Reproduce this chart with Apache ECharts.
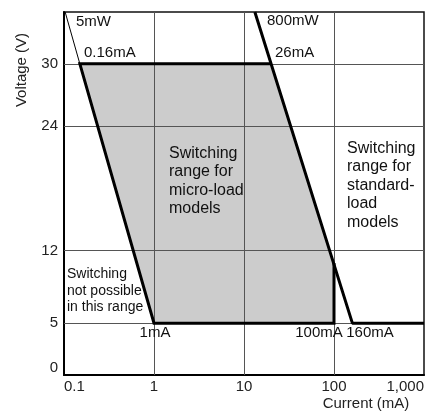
<!DOCTYPE html>
<html>
<head>
<meta charset="utf-8">
<script src="https://cdn.jsdelivr.net/npm/echarts@6/dist/echarts.min.js"></script>
<style>
html,body{margin:0;padding:0;background:#fff;}
#chart{width:427px;height:415px;}
</style>
</head>
<body>
<div id="chart"></div>
<script>
// ---- data ----
const xTicks = [0.1, 1, 10, 100, 1000];
const xTickLabels = ['0.1', '1', '10', '100', '1,000'];
const yTicks = [0, 5, 12, 24, 30];
const xGridValues = [1, 10, 100];
const yGridValues = [5, 12, 24, 30];

// micro-load switching range (shaded polygon)
const microRegionCurrent = [0.15, 20, 100, 100, 1];
const microRegionVoltage = [30, 30, 10.8, 5, 5];

// thick boundary of micro-load range
const microBoundaryCurrent = [20, 0.15, 1, 100, 100];
const microBoundaryVoltage = [30, 30, 5, 5, 10.8];

// 800 mW boundary of standard-load range
const standardBoundaryCurrent = [13.2, 160, 1000];
const standardBoundaryVoltage = [35, 5, 5];

// 5 mW line (thin part above 30 V)
const fiveMwCurrent = [0.103, 0.15];
const fiveMwVoltage = [35, 30];

const FONT = '"Liberation Sans", Arial, Helvetica, sans-serif';
const pairs = (xs, ys) => xs.map((x, i) => [x, ys[i]]);

const chart = echarts.init(document.getElementById('chart'));
chart.setOption({
  animation: false,
  backgroundColor: '#fff',
  grid: { left: 64, right: 1, top: 12, bottom: 40, show: true, borderColor: '#111', borderWidth: 1.5, backgroundColor: 'transparent' },
  xAxis: {
    type: 'log', logBase: 10, min: 0.1, max: 1000,
    axisLine: { lineStyle: { color: '#000', width: 2 } },
    axisTick: { show: false },
    splitLine: { show: false },
    minorTick: { show: false },
    axisLabel: {
      color: '#222', fontSize: 15, fontFamily: FONT, margin: 4,
      alignMinLabel: 'left', alignMaxLabel: 'right',
      formatter: function (v) {
        const i = xTicks.findIndex(t => Math.abs(Math.log10(t) - Math.log10(v)) < 1e-6);
        return i >= 0 ? xTickLabels[i] : '';
      }
    }
  },
  yAxis: {
    type: 'value', min: 0, max: 35, interval: 1,
    axisLine: { show: true, lineStyle: { color: '#000', width: 2 } },
    axisTick: { show: false },
    splitLine: { show: false },
    axisLabel: {
      color: '#222', fontSize: 15, fontFamily: FONT, margin: 6,
      verticalAlignMinLabel: 'bottom',
      formatter: function (v) { return yTicks.indexOf(v) >= 0 ? String(v) : ''; }
    }
  },
  series: [
    {
      type: 'custom', z: 1, silent: true,
      data: [[microRegionCurrent[0], microRegionVoltage[0]]],
      renderItem: function (params, api) {
        const pts = microRegionCurrent.map((x, i) => api.coord([x, microRegionVoltage[i]]));
        return { type: 'polygon', shape: { points: pts }, style: { fill: '#cccccc' } };
      }
    },
    {
      type: 'line', z: 3, silent: true, data: [], symbol: 'none',
      markLine: {
        silent: true, symbol: 'none', label: { show: false },
        lineStyle: { color: '#555', width: 1, type: 'solid' },
        data: yGridValues.map(v => ({ yAxis: v })).concat(xGridValues.map(v => ({ xAxis: v })))
      }
    },
    {
      type: 'line', z: 5, silent: true, symbol: 'none',
      data: pairs(microBoundaryCurrent, microBoundaryVoltage),
      lineStyle: { color: '#000', width: 3, join: 'miter' }
    },
    {
      type: 'line', z: 5, silent: true, symbol: 'none',
      data: pairs(standardBoundaryCurrent, standardBoundaryVoltage),
      lineStyle: { color: '#000', width: 3 }
    },
    {
      type: 'line', z: 5, silent: true, symbol: 'none',
      data: pairs(fiveMwCurrent, fiveMwVoltage),
      lineStyle: { color: '#000', width: 1 }
    }
  ],
  graphic: [
    { type: 'text', x: 22, y: 70, rotation: Math.PI / 2, z: 10,
      style: { text: 'Voltage (V)', fill: '#222', font: '15px ' + FONT, textAlign: 'center', textVerticalAlign: 'middle' } },
    { type: 'text', x: 366, y: 404, z: 10,
      style: { text: 'Current (mA)', fill: '#222', font: '15px ' + FONT, textAlign: 'center', textVerticalAlign: 'middle' } },
    { type: 'text', x: 76, y: 22, z: 10,
      style: { text: '5mW', fill: '#111', font: '15px ' + FONT, textAlign: 'left', textVerticalAlign: 'middle' } },
    { type: 'text', x: 84, y: 53, z: 10,
      style: { text: '0.16mA', fill: '#111', font: '15px ' + FONT, textAlign: 'left', textVerticalAlign: 'middle' } },
    { type: 'text', x: 267, y: 21, z: 10,
      style: { text: '800mW', fill: '#111', font: '15px ' + FONT, textAlign: 'left', textVerticalAlign: 'middle' } },
    { type: 'text', x: 275, y: 53, z: 10,
      style: { text: '26mA', fill: '#111', font: '15px ' + FONT, textAlign: 'left', textVerticalAlign: 'middle' } },
    { type: 'text', x: 155, y: 333, z: 10,
      style: { text: '1mA', fill: '#111', font: '15px ' + FONT, textAlign: 'center', textVerticalAlign: 'middle' } },
    { type: 'text', x: 319, y: 333, z: 10,
      style: { text: '100mA', fill: '#111', font: '15px ' + FONT, textAlign: 'center', textVerticalAlign: 'middle' } },
    { type: 'text', x: 370, y: 333, z: 10,
      style: { text: '160mA', fill: '#111', font: '15px ' + FONT, textAlign: 'center', textVerticalAlign: 'middle' } },
    { type: 'text', x: 169, y: 144, z: 10,
      style: { text: 'Switching\nrange for\nmicro-load\nmodels', fill: '#111', font: '16px ' + FONT, lineHeight: 18.5, textAlign: 'left', textVerticalAlign: 'top' } },
    { type: 'text', x: 347, y: 139, z: 10,
      style: { text: 'Switching\nrange for\nstandard-\nload\nmodels', fill: '#111', font: '16px ' + FONT, lineHeight: 18.5, textAlign: 'left', textVerticalAlign: 'top' } },
    { type: 'text', x: 67, y: 266, z: 10,
      style: { text: 'Switching\nnot possible\nin this range', fill: '#111', font: '14px ' + FONT, lineHeight: 16.5, textAlign: 'left', textVerticalAlign: 'top' } }
  ]
});
</script>
</body>
</html>
